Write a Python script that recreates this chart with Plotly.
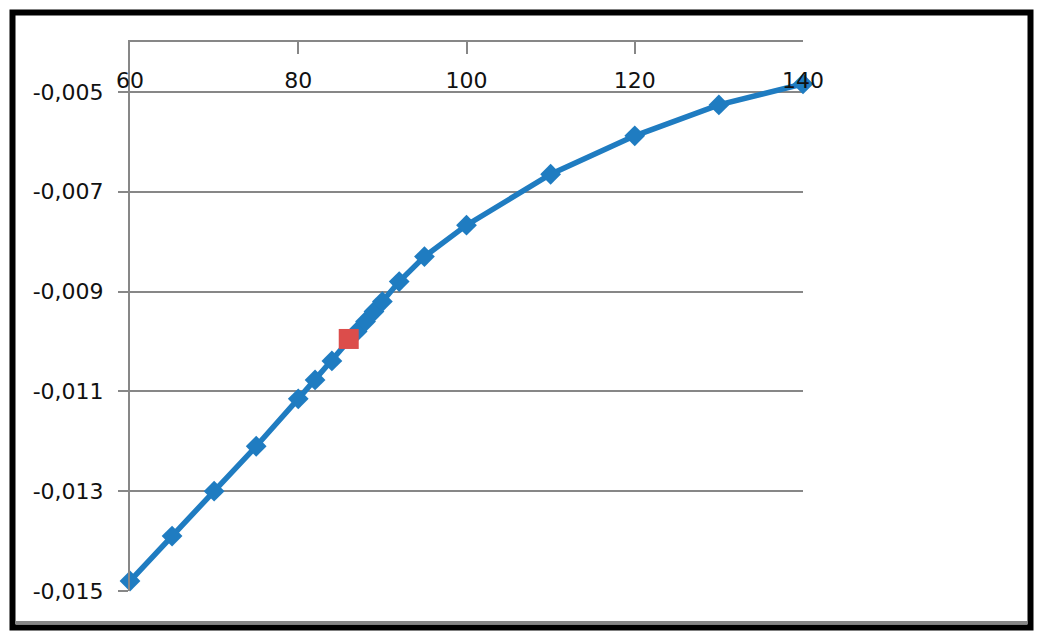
import plotly.graph_objects as go

# curve values
x_vals = [60, 65, 70, 75, 80, 82, 84, 87, 88, 89, 90, 92, 95, 100, 110, 120, 130, 140]
y_vals = [-0.0148, -0.0139, -0.0130, -0.0121, -0.01115, -0.01077, -0.01039,
          -0.0098, -0.0096, -0.0094, -0.0092, -0.0088, -0.0083, -0.00767,
          -0.00665, -0.00588, -0.00526, -0.00484]

# the highlighted point
mark_x = [86]
mark_y = [-0.00995]

x_ticks = [60, 80, 100, 120, 140]
y_ticks = [-0.015, -0.013, -0.011, -0.009, -0.007, -0.005]
y_tick_labels = ["-0,015", "-0,013", "-0,011", "-0,009", "-0,007", "-0,005"]

W, H = 1041, 639
L, R, T, B = 130, 803, 42, 591
GRID = "#878787"
BLUE = "#1f7cc1"


def px_x(p):
    return (p - L) / (R - L)


def px_y(p):
    return (B - p) / (B - T)


fig = go.Figure()

fig.add_trace(go.Scatter(
    x=x_vals, y=y_vals,
    mode="lines+markers",
    line=dict(color=BLUE, width=5.5),
    marker=dict(symbol="diamond", size=16, color=BLUE),
    showlegend=False,
    cliponaxis=False,
))

fig.add_trace(go.Scatter(
    x=mark_x, y=mark_y,
    mode="markers",
    marker=dict(symbol="square", size=20, color="#dc4d4b"),
    showlegend=False,
))

# outer frame like the screenshot
fig.add_shape(type="rect", xref="paper", yref="paper",
              x0=px_x(12.5), x1=px_x(1030.5), y0=px_y(627.5), y1=px_y(12.5),
              line=dict(color="black", width=6), layer="above")
fig.add_shape(type="line", xref="paper", yref="paper",
              x0=px_x(15), x1=px_x(1027), y0=px_y(622.5), y1=px_y(622.5),
              line=dict(color="#888888", width=3))

font = dict(family="DejaVu Sans", size=22, color="#111111")

fig.update_layout(
    width=W, height=H,
    margin=dict(l=L, r=W - R, t=T, b=H - B),
    paper_bgcolor="white",
    plot_bgcolor="white",
    xaxis=dict(
        range=[60, 140],
        side="top",
        tickvals=x_ticks,
        ticks="inside", ticklen=12, tickwidth=2, tickcolor=GRID,
        ticklabelposition="inside",
        ticklabelstandoff=20,
        ticklabeloverflow="allow",
        showline=True, linecolor=GRID, linewidth=2,
        showgrid=False, zeroline=False,
        tickfont=font,
    ),
    yaxis=dict(
        range=[-0.015, -0.004],
        tickvals=y_ticks, ticktext=y_tick_labels,
        ticks="outside", ticklen=10, tickwidth=2, tickcolor=GRID,
        showline=True, linecolor=GRID, linewidth=2,
        showgrid=True, gridcolor=GRID, gridwidth=2,
        zeroline=False,
        tickfont=font,
        ticklabelstandoff=10,
    ),
)

# drop the default page margin so the figure sits at the window corner
fig.write_html("out.html", config={"displayModeBar": False},
               post_script="document.body.style.margin='0';")
